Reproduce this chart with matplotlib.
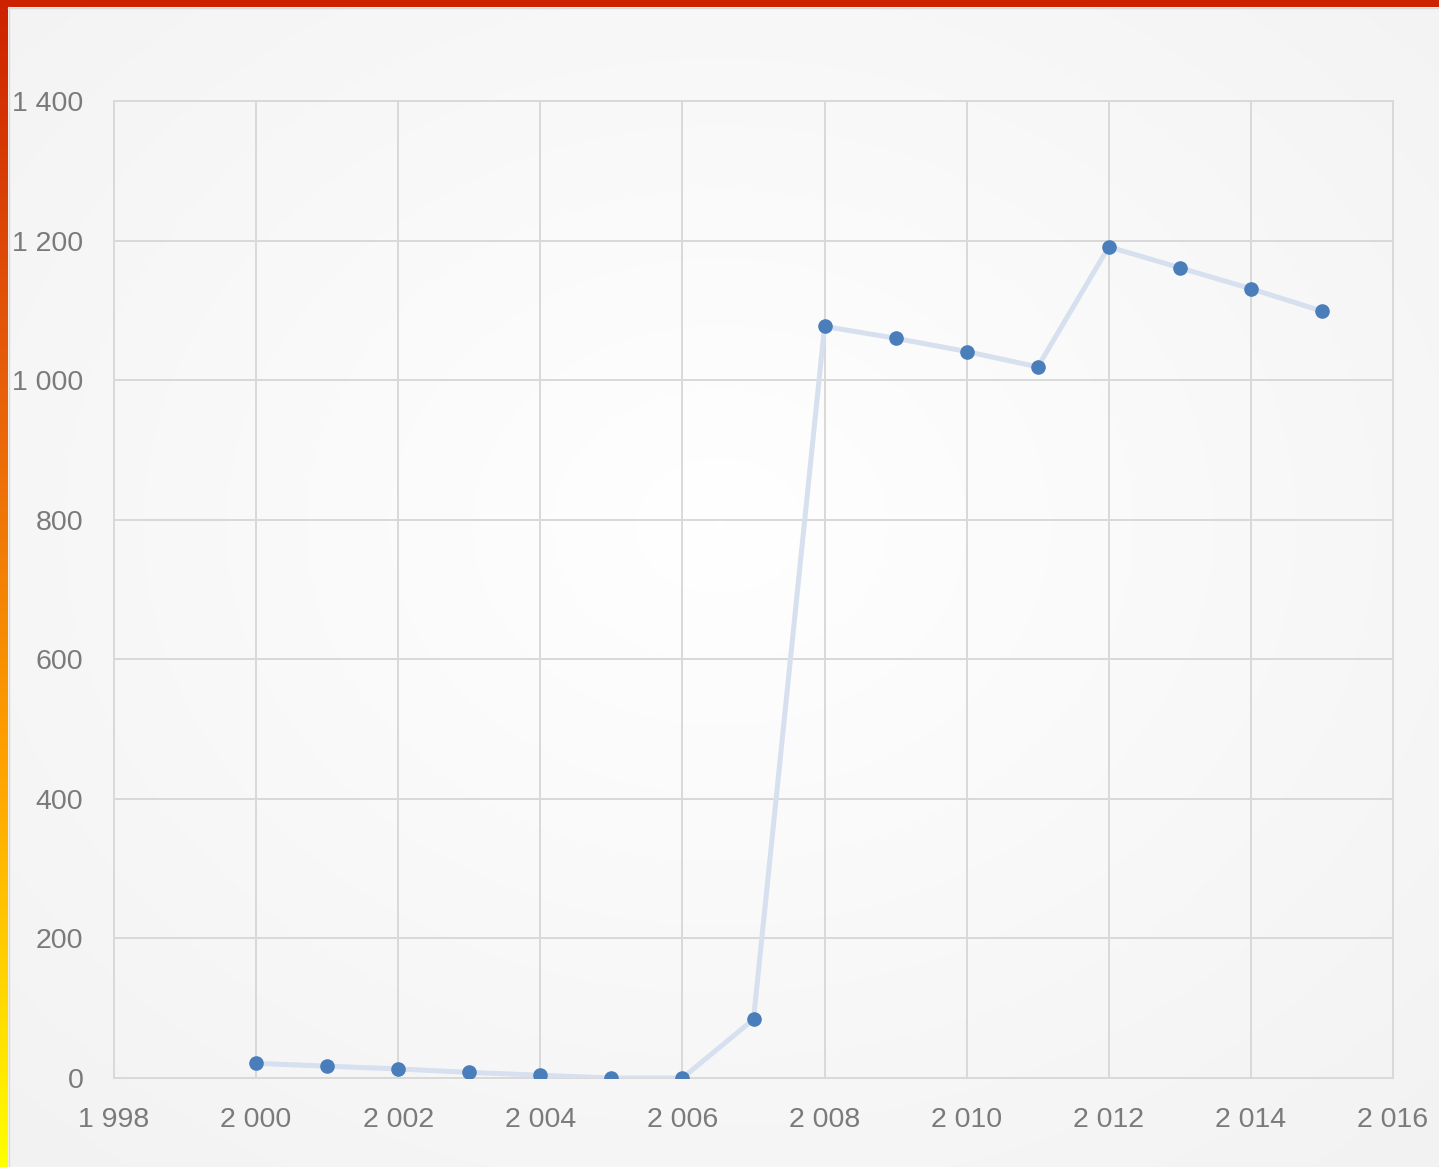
import numpy as np
import matplotlib.pyplot as plt
from matplotlib.colors import LinearSegmentedColormap

years = [2000, 2001, 2002, 2003, 2004, 2005, 2006, 2007,
         2008, 2009, 2010, 2011, 2012, 2013, 2014, 2015]
values = [21, 17, 13, 8, 4, 0, 0, 84,
          1077, 1060, 1041, 1019, 1191, 1161, 1131, 1099]

x_ticks = list(range(1998, 2017, 2))
y_ticks = list(range(0, 1401, 200))

plt.rcParams['font.family'] = ['Liberation Sans', 'DejaVu Sans']

W, H = 1439, 1167
fig = plt.figure(figsize=(W / 100, H / 100), dpi=100)

# background with radial gradient
bg = fig.add_axes([0, 0, 1, 1])
yy, xx = np.mgrid[0:H, 0:W]
r = np.sqrt(((xx - W * 0.5) / W) ** 2 + ((yy - H * 0.45) / H) ** 2)
r = r / r.max()
bg_cmap = LinearSegmentedColormap.from_list('bg', ['#ffffff', '#f2f2f2'])
bg.imshow(r, cmap=bg_cmap, extent=[0, W, H, 0], aspect='auto')
bg.set_xlim(0, W)
bg.set_ylim(H, 0)
bg.axis('off')

# top red band and left red-to-yellow band
bg.add_patch(plt.Rectangle((0, 0), W, 7, color='#cc2200', lw=0))
side = np.linspace(0, 1, 256).reshape(-1, 1)
side_cmap = LinearSegmentedColormap.from_list('side', ['#cc2200', '#e8600a', '#ffa500', '#ffff00'])
bg.imshow(side, cmap=side_cmap, extent=[0, 8, H, 0], aspect='auto')
bg.plot([8.5, 8.5], [7, H], color='#d9d9d9', lw=1)
bg.plot([8, W], [7.5, 7.5], color='#d9d9d9', lw=1)
bg.set_xlim(0, W)
bg.set_ylim(H, 0)

# main chart
ax = fig.add_axes([114 / W, 1 - 1078 / H, (1393 - 114) / W, (1078 - 101) / H])
ax.patch.set_alpha(0)
ax.plot(years, values, color='#d6e0ef', lw=3.6, zorder=3)
ax.plot(years, values, 'o', color='#4a7ebb', markersize=9.5, zorder=4)

ax.set_xlim(1998, 2016)
ax.set_ylim(0, 1400)
ax.set_xticks(x_ticks)
ax.set_yticks(y_ticks)
ax.set_xticklabels([f"{v:,}".replace(",", " ") for v in x_ticks])
ax.set_yticklabels([f"{v:,}".replace(",", " ") for v in y_ticks])
ax.grid(True, color='#d9d9d9', lw=1.4)
ax.set_axisbelow(True)
for s in ax.spines.values():
    s.set_color('#d9d9d9')
    s.set_linewidth(1.4)
ax.tick_params(length=0, labelsize=20.5, labelcolor='#7a7a7a')
ax.tick_params(axis='y', pad=22)
ax.tick_params(axis='x', pad=21)

plt.savefig('out.png', dpi=100)
